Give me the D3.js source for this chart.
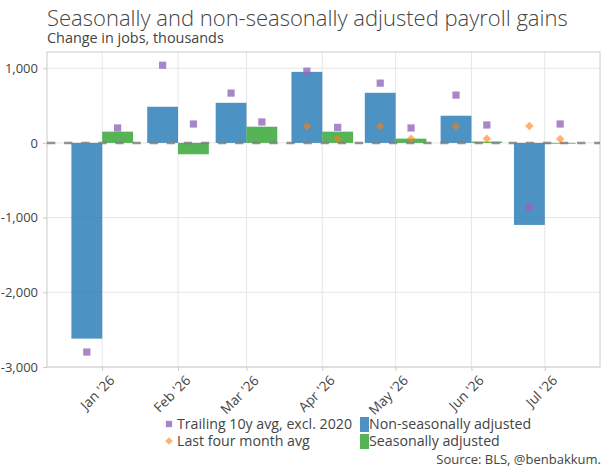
<!DOCTYPE html>
<html>
<head>
    <meta charset="UTF-8">
    <title>payroll gains</title>
    <script src="https://d3js.org/d3.v7.min.js"></script>
    <style>
        body { margin: 0; background: #fff; }
        text { font-family: "Open Sans", sans-serif; fill: #444; }
    </style>
</head>
<body>
    <svg id="chart"></svg>
    <script>
        // ---- data ----
        var months = ["2026-01-01", "2026-02-01", "2026-03-01", "2026-04-01", "2026-05-01", "2026-06-01", "2026-07-01"];
        var monthLabels = ["Jan '26", "Feb '26", "Mar '26", "Apr '26", "May '26", "Jun '26", "Jul '26"];
        var nsa = [-2620, 484, 537, 951, 671, 364, -1098];
        var sa = [151, -152, 217, 151, 57, 17, -10];
        var nsaTrailing = [-2800, 1040, 667, 960, 800, 640, -858];
        var saTrailing = [200, 253, 280, 208, 200, 240, 253];
        var nsaFourMonth = [null, null, null, 222, 222, 222, 227];
        var saFourMonth = [null, null, null, 53, 57, 57, 53];
        var yTicks = [1000, 0, -1000, -2000, -3000];

        var W = 615, H = 475;
        var mLeft = 47, mRight = 600, mTop = 52, mBottom = 367;

        var svg = d3.select('#chart').attr("width", W).attr("height", H);

        var dates = months.map(function(m) { return new Date(m + "T00:00:00Z"); });

        var x = d3.scaleUtc()
            .domain([new Date(Date.UTC(2025, 11, 9, 10)), new Date(Date.UTC(2026, 6, 23, 14))])
            .range([mLeft, mRight]);
        var y = d3.scaleLinear()
            .domain([-3000, 1217])
            .range([mBottom, mTop]);

        var DAY = 86400000;
        var barDays = 12.6;
        function offset(d, days) { return new Date(d.getTime() + days * DAY); }

        // grid
        svg.append("g").selectAll("line").data(yTicks).enter().append("line")
            .attr("x1", mLeft).attr("x2", mRight)
            .attr("y1", function(d) { return y(d); }).attr("y2", function(d) { return y(d); })
            .attr("stroke", "#e6e6e6").attr("stroke-width", 1);
        svg.append("g").selectAll("line").data(dates).enter().append("line")
            .attr("x1", function(d) { return x(d); }).attr("x2", function(d) { return x(d); })
            .attr("y1", mTop).attr("y2", mBottom)
            .attr("stroke", "#e6e6e6").attr("stroke-width", 1);

        // axes
        var fmt = d3.format(",");
        var yAxis = d3.axisLeft(y).tickValues(yTicks).tickSize(4).tickPadding(5)
            .tickFormat(function(d) { return fmt(d).replace("\u2212", "-"); });
        var gy = svg.append("g").attr("transform", "translate(" + mLeft + ",0)").call(yAxis);
        gy.select(".domain").remove();
        gy.selectAll(".tick line").attr("stroke", "#ccc");
        gy.selectAll(".tick text").style("font-size", "13px").attr("fill", "#444");

        var xAxis = d3.axisBottom(x).tickValues(dates).tickSize(4)
            .tickFormat(function(d, i) { return monthLabels[i]; });
        var gx = svg.append("g").attr("transform", "translate(0," + mBottom + ")").call(xAxis);
        gx.select(".domain").remove();
        gx.selectAll(".tick line").attr("stroke", "#ccc");
        gx.selectAll(".tick text")
            .style("font-size", "13.6px").attr("fill", "#444")
            .attr("text-anchor", "end")
            .attr("dy", "0.35em")
            .attr("transform", "translate(9.5,11) rotate(-45)")
            .attr("y", 0).attr("x", 0);

        // plot box
        svg.append("rect")
            .attr("x", mLeft).attr("y", mTop)
            .attr("width", mRight - mLeft).attr("height", mBottom - mTop)
            .attr("fill", "none").attr("stroke", "#ccc").attr("stroke-width", 1);

        // bars
        var bars = svg.append("g");
        bars.selectAll(".nsa").data(nsa).enter().append("rect")
            .attr("x", function(d, i) { return x(offset(dates[i], -barDays)); })
            .attr("width", function(d, i) { return x(dates[i]) - x(offset(dates[i], -barDays)); })
            .attr("y", function(d) { return y(Math.max(0, d)); })
            .attr("height", function(d) { return Math.abs(y(d) - y(0)); })
            .attr("fill", "#1f77b4").attr("fill-opacity", 0.8);
        bars.selectAll(".sa").data(sa).enter().append("rect")
            .attr("x", function(d, i) { return x(dates[i]); })
            .attr("width", function(d, i) { return x(offset(dates[i], barDays)) - x(dates[i]); })
            .attr("y", function(d) { return y(Math.max(0, d)); })
            .attr("height", function(d) { return Math.abs(y(d) - y(0)); })
            .attr("fill", "#2ca02c").attr("fill-opacity", 0.8);

        // zero line
        svg.append("line")
            .attr("x1", mLeft).attr("x2", mRight)
            .attr("y1", y(0)).attr("y2", y(0))
            .attr("stroke", "#808080").attr("stroke-width", 2.5)
            .attr("stroke-dasharray", "8.3,8.8")
            .attr("stroke-opacity", 0.85);

        // markers
        var sq = d3.symbol().type(d3.symbolSquare).size(52);
        var dm = d3.symbol().type(d3.symbolSquare).size(36);
        function addMarkers(vals, days, sym, rot, color, op) {
            svg.append("g").selectAll("path")
                .data(vals.map(function(v, i) { return {v: v, d: offset(dates[i], days)}; })
                    .filter(function(o) { return o.v !== null; }))
                .enter().append("path")
                .attr("d", sym)
                .attr("transform", function(o) {
                    return "translate(" + x(o.d) + "," + y(o.v) + ") rotate(" + rot + ")";
                })
                .attr("fill", color).attr("fill-opacity", op);
        }
        addMarkers(nsaTrailing, -barDays / 2, sq, 0, "#9467bd", 0.8);
        addMarkers(saTrailing, barDays / 2, sq, 0, "#9467bd", 0.8);
        addMarkers(nsaFourMonth, -barDays / 2, dm, 45, "#ff7f0e", 0.6);
        addMarkers(saFourMonth, barDays / 2, dm, 45, "#ff7f0e", 0.6);

        // titles
        svg.append("text").attr("x", 47).attr("y", 26)
            .style("font-size", "22px").style("font-weight", 300)
            .text("Seasonally and non-seasonally adjusted payroll gains");
        svg.append("text").attr("x", 47).attr("y", 43)
            .style("font-size", "14.4px")
            .text("Change in jobs, thousands");

        // legend
        var leg = svg.append("g");
        leg.append("path").attr("d", d3.symbol().type(d3.symbolSquare).size(40))
            .attr("transform", "translate(169,424)").attr("fill", "#9467bd").attr("fill-opacity", 0.8);
        leg.append("text").attr("x", 177).attr("y", 429).style("font-size", "14.2px")
            .text("Trailing 10y avg, excl. 2020");
        leg.append("path").attr("d", d3.symbol().type(d3.symbolSquare).size(30))
            .attr("transform", "translate(169,441) rotate(45)").attr("fill", "#ff7f0e").attr("fill-opacity", 0.6);
        leg.append("text").attr("x", 177).attr("y", 446).style("font-size", "14.2px")
            .text("Last four month avg");
        leg.append("rect").attr("x", 360).attr("y", 417).attr("width", 9).attr("height", 15)
            .attr("fill", "#1f77b4").attr("fill-opacity", 0.8);
        leg.append("text").attr("x", 369).attr("y", 429).style("font-size", "14.2px")
            .text("Non-seasonally adjusted");
        leg.append("rect").attr("x", 360).attr("y", 434).attr("width", 9).attr("height", 15)
            .attr("fill", "#2ca02c").attr("fill-opacity", 0.8);
        leg.append("text").attr("x", 369).attr("y", 446).style("font-size", "14.2px")
            .text("Seasonally adjusted");

        svg.append("text").attr("x", 601).attr("y", 464)
            .attr("text-anchor", "end").style("font-size", "13px")
            .text("Source: BLS, @benbakkum.");
    </script>
</body>
</html>
